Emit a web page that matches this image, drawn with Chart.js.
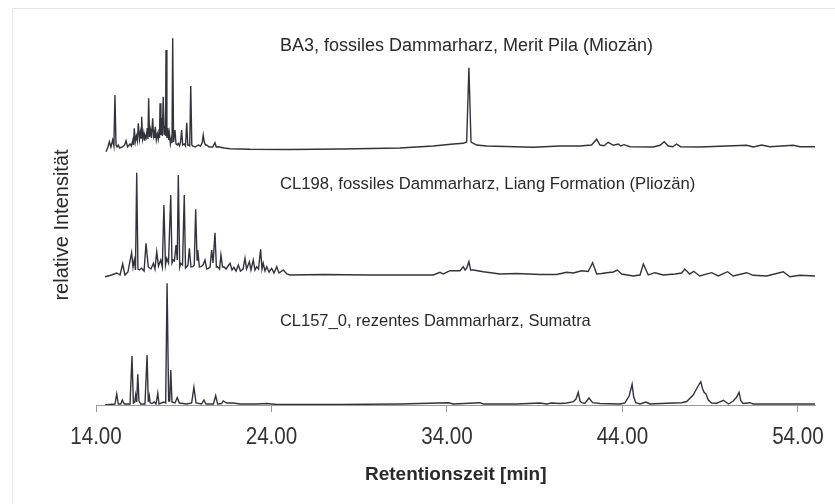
<!DOCTYPE html>
<html>
<head>
<meta charset="utf-8">
<script src="https://cdn.jsdelivr.net/npm/chart.js@4/dist/chart.umd.min.js"></script>
<style>
  html, body { margin: 0; padding: 0; background: #ffffff; }
  #wrap { width: 835px; height: 504px; position: relative; }
</style>
</head>
<body>
<div id="wrap"><canvas id="chart" width="835" height="504"></canvas></div>
<script>
// Retention-time axis ticks (min)
const tickValues = [14, 24, 34, 44, 54];

// Sample captions, top to bottom
const traceNames = [
  'BA3, fossiles Dammarharz, Merit Pila (Miozän)',
  'CL198, fossiles Dammarharz, Liang Formation (Pliozän)',
  'CL157_0, rezentes Dammarharz, Sumatra'
];

// Chromatogram BA3: [retention time (min), relative signal]
const ba3Trace = [
  [14.57,-3.7],[14.68,1],[14.76,6.3],[14.85,1],[14.95,8],[15.02,2],[15.08,53],[15.14,3],[15.20,1],[15.27,3],
  [15.35,0],[15.50,1],[15.63,3],[15.71,7.3],[15.80,1],[15.94,4],[16.02,2],[16.10,8],[16.14,3],[16.18,19.7],
  [16.24,6],[16.30,12],[16.36,7],[16.41,24.7],[16.48,9],[16.53,16],[16.57,10],[16.60,31.3],[16.66,9],[16.72,15],
  [16.76,8],[16.79,13],[16.86,10],[16.92,20],[16.96,9],[17.00,49.7],[17.05,11],[17.11,18],[17.16,10],[17.23,29.7],
  [17.28,12],[17.33,16],[17.35,10],[17.38,21.3],[17.44,8],[17.50,14],[17.55,9],[17.60,19],[17.62,10],[17.65,44.7],
  [17.70,13],[17.74,30],[17.78,12],[17.83,51.3],[17.88,14],[17.93,22],[17.96,12],[17.99,98],[18.04,10],[18.10,20],
  [18.14,8],[18.18,14.7],[18.24,4],[18.30,10],[18.33,5],[18.37,109.7],[18.42,6],[18.50,18],[18.56,4],[18.62,3],
  [18.69,4.7],[18.76,2],[18.82,6],[18.88,18],[18.94,3],[19.03,4],[19.10,2],[19.17,25.3],[19.23,3],[19.28,3],
  [19.34,2],[19.40,62],[19.46,3],[19.51,2],[19.65,1],[19.83,3],[19.95,2],[20.05,5],[20.11,13],[20.17,6],
  [20.24,3],[20.31,3],[20.45,1],[20.65,1],[20.78,5.3],[20.85,1],[20.97,1.3],[21.30,0],[21.64,-0.7],[22.77,-1.3],
  [25.00,-1.5],[28.00,-1],[31.32,0],[33.22,2],[34.36,4],[34.93,4.7],[35.12,6],[35.25,80.3],[35.37,6],[35.69,3],
  [36.26,2],[38.92,0.7],[40.44,2],[41.58,2],[42.24,3],[42.53,8.7],[42.72,3],[42.95,2.3],[43.19,5.7],[43.48,2.7],
  [43.76,4],[43.91,2],[44.09,3.3],[44.43,1.3],[45.76,1],[46.14,2.7],[46.38,6.3],[46.61,2],[46.86,1.3],[47.08,4],
  [47.31,1.3],[48.42,1],[49.56,1.7],[51.08,2.7],[51.46,1],[51.93,3],[52.40,1.3],[53.73,2.7],[54.11,1.3],[54.97,1.3]
];

// Chromatogram CL198
const cl198Trace = [
  [14.51,-1.7],[14.89,0],[15.18,2],[15.37,0],[15.52,11],[15.65,0],[15.82,3],[16.03,22.3],[16.11,8],[16.18,15],
  [16.25,5],[16.32,102.3],[16.39,6],[16.47,5],[16.60,6.7],[16.74,4],[16.85,31.7],[16.98,8],[17.13,6],[17.27,11.7],
  [17.36,6],[17.46,23.3],[17.56,9],[17.69,15],[17.78,8],[17.87,70],[17.96,10],[18.03,16.7],[18.13,12],[18.26,80],
  [18.33,12],[18.40,15],[18.47,14],[18.56,30],[18.63,15],[18.69,100],[18.77,8],[18.82,11.7],[18.93,10],[19.03,80],
  [19.10,7],[19.17,8.3],[19.24,10],[19.32,26.7],[19.41,8],[19.51,8.3],[19.60,10],[19.68,65.7],[19.76,15],[19.80,25],
  [19.89,8],[19.98,8.3],[20.10,10],[20.21,15],[20.31,6],[20.40,6.7],[20.50,8],[20.59,25],[20.67,12],[20.78,42.3],
  [20.86,8],[20.93,8.3],[21.04,6],[21.12,20],[21.21,8],[21.29,8.3],[21.41,6],[21.52,9],[21.64,11.7],[21.75,5],
  [21.86,7.7],[21.98,4],[22.11,10],[22.23,4],[22.38,6],[22.49,16.7],[22.58,6],[22.74,13.3],[22.83,5],[22.96,15],
  [23.06,5],[23.16,8.3],[23.26,6],[23.38,25.7],[23.46,6],[23.53,11.7],[23.63,4],[23.73,8.3],[23.86,3],[24.01,6.7],
  [24.14,2],[24.30,8.3],[24.43,2],[24.67,5],[24.88,1],[25.05,0],[27.00,0.5],[29.50,0],[31.32,0],[33.22,0],
  [33.60,2.7],[33.79,1],[34.17,4.3],[34.74,4.3],[34.93,8.3],[35.03,5],[35.12,6.7],[35.25,13.3],[35.35,5],[35.50,5],
  [36.07,3.3],[37.02,1],[37.97,1.5],[39.30,0.5],[40.25,0.5],[40.82,2.7],[41.20,2],[41.68,4.3],[42.05,3.5],[42.30,12.3],
  [42.53,1],[42.81,1.5],[43.10,2.3],[43.48,3],[43.71,5],[43.95,1],[44.61,-1],[45.00,0],[45.19,11],[45.47,0],
  [45.85,2.3],[46.33,0],[47.00,1],[47.37,2],[47.55,6],[47.83,1],[48.06,3.7],[48.40,-1],[49.08,2.3],[49.46,-1],
  [49.99,3.3],[50.31,-1],[51.08,2.3],[51.45,-0.3],[52.22,-1],[53.16,3.3],[53.54,-1.7],[54.11,-0.3],[54.97,-1]
];

// Chromatogram CL157_0
const cl157Trace = [
  [14.51,0],[15.08,1],[15.18,11],[15.27,1],[15.41,1],[15.50,5],[15.61,1],[15.94,1],[16.05,49],[16.13,2],
  [16.21,3],[16.26,10],[16.32,3],[16.38,30.7],[16.45,4],[16.55,1],[16.79,1],[16.91,50],[16.98,3],[17.04,9],
  [17.09,2],[17.19,1.5],[17.32,3],[17.42,1],[17.52,11.7],[17.59,1],[17.87,3],[17.97,2],[18.05,121.7],[18.14,4],
  [18.20,4],[18.26,35],[18.33,3],[18.50,2],[18.63,7.3],[18.75,2],[19.17,1],[19.45,2],[19.58,17.7],[19.70,2],
  [20.02,1],[20.15,5],[20.27,1],[20.69,1],[20.82,9.3],[20.93,1],[21.16,1.5],[21.25,4],[21.45,2],[21.82,2],
  [22.20,1],[23.15,1],[23.73,1.5],[24.30,0.5],[25.00,0.5],[28.00,0.5],[31.32,1],[34.08,2.3],[34.36,1],[35.88,2.3],
  [36.07,1],[37.97,1],[39.30,2],[39.68,1],[39.96,2],[40.44,1.5],[40.82,2],[41.20,3.3],[41.35,6],[41.48,12.7],
  [41.58,4],[41.68,2.3],[41.86,1.7],[42.09,7],[42.30,2.3],[42.72,1.5],[43.85,1],[44.13,2],[44.38,9],[44.55,20.7],
  [44.64,8],[44.76,2.3],[45.00,1],[45.34,3],[45.57,1],[46.52,1.7],[47.37,2.3],[47.66,3.5],[48.03,10],[48.28,18],
  [48.46,23.3],[48.57,16],[48.65,12.7],[48.76,11],[48.89,5],[49.08,2],[49.37,1.7],[49.75,4.7],[50.04,1],[50.31,4],
  [50.51,8],[50.64,12.7],[50.75,4],[50.88,1.5],[51.27,2.3],[51.45,1],[52.22,1],[53.16,1],[54.97,1]
];

// Vertical stacking of the three traces and caption heights (signal units)
const traceOffsets = [257, 130, 0];
const captionLevels = [359, 221, 84];
const captionTime = 24.48;

const traces = [ba3Trace, cl198Trace, cl157Trace];
const lineColor = '#33333d';
const textColor = '#2a2a2a';
const textFont = "'Liberation Sans', Arial, sans-serif";
const captionSizes = [18, 16.7, 16.5];

const datasets = traces.map((tr, i) => ({
  label: traceNames[i],
  data: tr.map(([t, v]) => ({ x: t, y: v + traceOffsets[i] })),
  borderColor: lineColor,
  borderWidth: 1.4,
  pointRadius: 0,
  tension: 0,
  fill: false
}));

// White page with a faint frame
const pagePlugin = {
  id: 'page',
  beforeDraw(chart) {
    const ctx = chart.ctx;
    ctx.save();
    ctx.fillStyle = '#ffffff';
    ctx.fillRect(0, 0, chart.width, chart.height);
    ctx.strokeStyle = '#e6e6e6';
    ctx.lineWidth = 1;
    ctx.strokeRect(12.5, 8.5, chart.width, chart.height);
    ctx.restore();
  }
};

// Captions, condensed tick numbers and the intensity label
const textPlugin = {
  id: 'texts',
  afterDraw(chart) {
    const { ctx, scales, chartArea } = chart;
    const xs = scales.x, ys = scales.y;
    ctx.save();
    ctx.fillStyle = textColor;

    // sample captions
    ctx.textAlign = 'left';
    ctx.textBaseline = 'middle';
    traceNames.forEach((name, i) => {
      ctx.font = captionSizes[i] + 'px ' + textFont;
      ctx.fillText(name, xs.getPixelForValue(captionTime), ys.getPixelForValue(captionLevels[i]));
    });

    // tick numbers in a narrow face
    ctx.font = '24px ' + textFont;
    ctx.textAlign = 'center';
    ctx.fillStyle = '#333333';
    xs.ticks.forEach(tk => {
      ctx.save();
      ctx.translate(xs.getPixelForValue(tk.value), chartArea.bottom + 32);
      ctx.scale(0.86, 1);
      ctx.fillText(Number(tk.value).toFixed(2), 0, 0);
      ctx.restore();
    });

    // intensity label
    ctx.fillStyle = textColor;
    ctx.font = '20px ' + textFont;
    ctx.translate(62, (chartArea.top + chartArea.bottom) / 2 + 10);
    ctx.rotate(-Math.PI / 2);
    ctx.fillText('relative Intensität', 0, 0);
    ctx.restore();
  }
};

new Chart(document.getElementById('chart'), {
  type: 'line',
  data: { datasets },
  options: {
    responsive: false,
    animation: false,
    devicePixelRatio: 1,
    layout: { padding: { left: 96, right: 19.5, top: 25, bottom: 10 } },
    plugins: { legend: { display: false }, tooltip: { enabled: false } },
    scales: {
      x: {
        type: 'linear',
        min: 14,
        max: 55,
        afterBuildTicks(scale) { scale.ticks = tickValues.map(v => ({ value: v })); },
        grid: { display: true, drawOnChartArea: false, drawTicks: true, tickLength: 7, color: '#9a9a9a' },
        border: { display: true, color: '#9a9a9a', width: 1 },
        ticks: { display: false },
        title: {
          display: true,
          text: 'Retentionszeit [min]',
          color: textColor,
          font: { family: textFont, size: 19, weight: 'bold' },
          padding: { top: 51.6, bottom: 7.6 }
        }
      },
      y: {
        display: false,
        type: 'linear',
        min: 0,
        max: 380
      }
    }
  },
  plugins: [pagePlugin, textPlugin]
});
</script>
</body>
</html>
